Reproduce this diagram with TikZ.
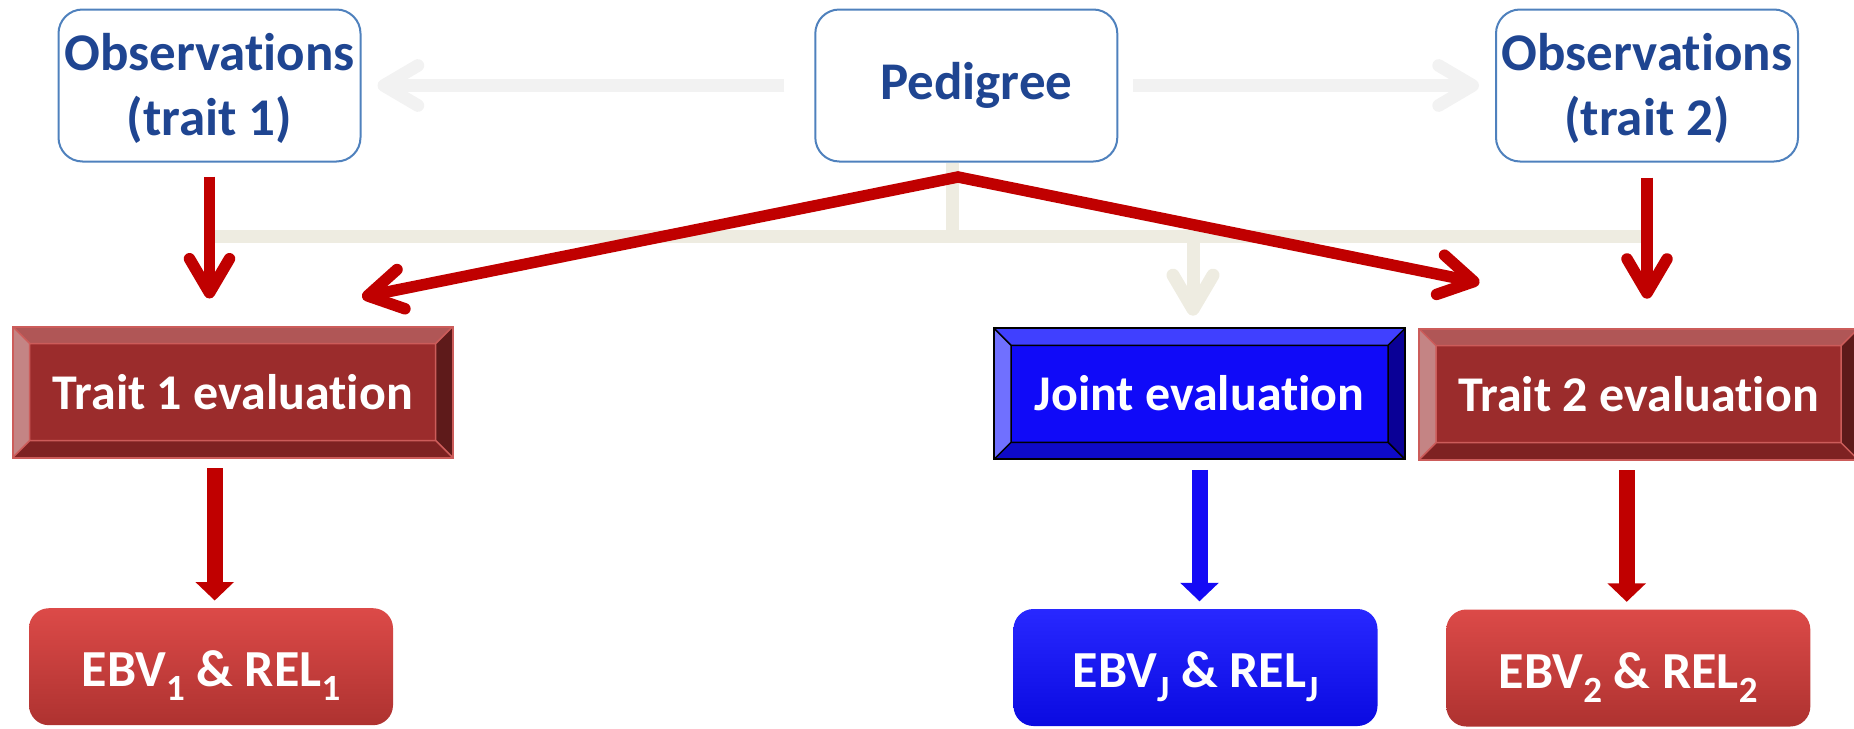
\documentclass[tikz,border=0pt]{standalone}
\usepackage{fontspec}
\setmainfont{Carlito}[Ligatures=NoCommon]
\usetikzlibrary{arrows.meta}
\definecolor{obsblue}{RGB}{31,69,145}
\definecolor{obsline}{RGB}{79,129,189}
\definecolor{lightgrey}{RGB}{242,242,242}
\definecolor{beige}{RGB}{238,236,225}
\definecolor{darkred}{RGB}{192,0,0}
\definecolor{bluearrow}{RGB}{20,10,245}
\definecolor{trmain}{RGB}{155,44,44}
\definecolor{trtop}{RGB}{176,86,86}
\definecolor{trleft}{RGB}{196,132,132}
\definecolor{trbottom}{RGB}{126,34,34}
\definecolor{trright}{RGB}{94,26,26}
\definecolor{trline}{RGB}{204,92,90}
\definecolor{jtmain}{RGB}{16,10,248}
\definecolor{jttop}{RGB}{64,64,255}
\definecolor{jtleft}{RGB}{112,112,255}
\definecolor{jtbottom}{RGB}{14,10,200}
\definecolor{jtright}{RGB}{10,0,150}
\definecolor{ebvtop}{RGB}{220,74,72}
\definecolor{ebvbottom}{RGB}{174,50,48}
\definecolor{ebvjtop}{RGB}{40,40,255}
\definecolor{ebvjbottom}{RGB}{10,10,225}
\newcommand{\lowsub}[1]{\raisebox{-14pt}{\fontsize{37}{37}\selectfont #1}}

\begin{document}
\begin{tikzpicture}[x=1pt, y=-1pt,
  chev/.tip={Straight Barb[length=34pt,width=40pt,round]},
  obsbox/.style={draw=obsline, line width=2pt, rounded corners=24pt, minimum width=302pt, minimum height=152pt, text=obsblue, align=center, font=\bfseries\fontsize{53}{65}\selectfont},
  bevelbox/.style n args={6}{fill=#1, draw=#6, line width=2pt, path picture={
    \path (path picture bounding box.north west) coordinate (p1) (path picture bounding box.north east) coordinate (p2)
      (path picture bounding box.south east) coordinate (p3) (path picture bounding box.south west) coordinate (p4)
      ([shift={(17pt,-17pt)}]p1) coordinate (q1) ([shift={(-17pt,-17pt)}]p2) coordinate (q2)
      ([shift={(-17pt,17pt)}]p3) coordinate (q3) ([shift={(17pt,17pt)}]p4) coordinate (q4);
    \fill[#2] (p1) -- (p2) -- (q2) -- (q1) -- cycle;
    \fill[#3] (p1) -- (q1) -- (q4) -- (p4) -- cycle;
    \fill[#4] (p4) -- (q4) -- (q3) -- (p3) -- cycle;
    \fill[#5] (p2) -- (p3) -- (q3) -- (q2) -- cycle;
    \draw[#6, line width=1.5pt] (q1) rectangle (q3) (p1) -- (q1) (p2) -- (q2) (p3) -- (q3) (p4) -- (q4);}},
  evalbox/.style={minimum height=131pt, text=white, font=\bfseries\fontsize{50}{60}\selectfont, text height=39pt, text depth=5pt},
  ebvbox/.style n args={2}{top color=#1, bottom color=#2, rounded corners=20pt, minimum width=364pt, minimum height=117pt, text=white, font=\bfseries\fontsize{52}{60}\selectfont, text height=45pt, text depth=5pt},
  lightline/.style={lightgrey, line width=12.7pt, -chev},
  beigeline/.style={beige, line width=13pt},
  redline/.style={darkred, line width=11.5pt},
  blockline/.style={line width=16pt, -{Triangle[length=18.5pt,width=37.5pt]}}]
\tikzstyle{every node}+=[inner sep=0pt]
\useasboundingbox (0,0) rectangle (1854,728);
\node[obsbox, text height=105pt, text depth=6pt] (obs1) at (209.5,85.5) {Observations\\(trait 1)};
\node[obsbox, text height=38pt, text depth=10pt] (ped) at (966.3,85.5) {\hspace*{20pt}Pedigree};
\node[obsbox, text height=105pt, text depth=6pt] (obs2) at (1647,85.5) {Observations\\(trait 2)};
\node[evalbox, bevelbox={trmain}{trtop}{trleft}{trbottom}{trright}{trline}, minimum width=440pt] (t1) at (232.7,392) {Trait 1 evaluation};
\node[evalbox, bevelbox={jtmain}{jttop}{jtleft}{jtbottom}{jtright}{black}, minimum width=411pt] (joint) at (1199.5,393.8) {Joint evaluation};
\node[evalbox, bevelbox={trmain}{trtop}{trleft}{trbottom}{trright}{trline}, minimum width=439pt] (t2) at (1638.5,394.2) {Trait 2 evaluation};
\node[ebvbox={ebvtop}{ebvbottom}] (ebv1) at (211,666.7) {EBV\lowsub{1} \& REL\lowsub{1}};
\node[ebvbox={ebvjtop}{ebvjbottom}] (ebvj) at (1195.5,667.5) {EBV\lowsub{J} \& REL\lowsub{J}};
\node[ebvbox={ebvtop}{ebvbottom}] (ebv2) at (1628.3,668) {EBV\lowsub{2} \& REL\lowsub{2}};
\coordinate (hub) at (952,236.5);
\coordinate (drop) at (1193,236.5);
\coordinate (apex) at (958,177);
\coordinate (t1in) at (362,297);
\coordinate (t2in) at (1479.5,282.7);
\draw[beigeline] (obs1.south |- hub) -- (obs2.south |- hub);
\draw[beigeline] (ped.south -| hub) -- (hub);
\draw[beigeline, -chev, shorten >=11.6pt] (drop) -- (drop |- joint.north);
\draw[lightline, shorten <=30pt, shorten >=16pt] (ped.west) -- (obs1.east);
\draw[lightline, shorten <=15pt, shorten >=16pt] (ped.east) -- (obs2.west);
\draw[redline, -chev, shorten <=14pt, shorten >=27pt] (obs1.south) -- (obs1.south |- t1.north);
\draw[redline, -chev, shorten <=15pt, shorten >=29pt] (obs2.south) -- (obs2.south |- t2.north);
\draw[redline, chev-chev] (t1in) -- (apex) -- (t2in);
\draw[blockline, darkred, shorten <=9.5pt, shorten >=7.5pt] ([xshift=3.7pt]ebv1.north |- t1.south) -- ([xshift=3.7pt]ebv1.north);
\draw[blockline, bluearrow, shorten <=9.5pt, shorten >=7.5pt] (joint.south) -- (joint.south |- ebvj.north);
\draw[blockline, darkred, shorten <=9.5pt, shorten >=7.5pt] ([xshift=-1.6pt]ebv2.north |- t2.south) -- ([xshift=-1.6pt]ebv2.north);
\end{tikzpicture}
\end{document}
